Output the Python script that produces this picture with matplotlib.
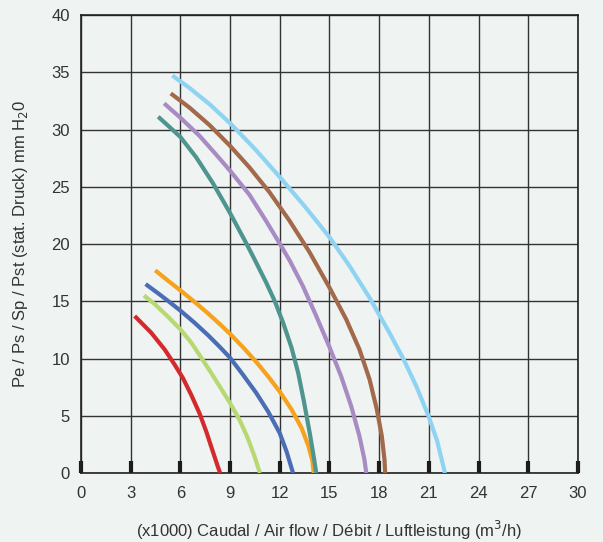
import matplotlib.pyplot as plt

# fan curves (x in thousands of m3/h, y in mm H2O)
red_x = [3.24, 4.24, 5.05, 5.65, 6.15, 6.65, 7.15, 7.56, 7.96, 8.26, 8.40]
red_y = [13.71, 12.25, 10.79, 9.47, 8.30, 6.84, 5.23, 3.63, 1.87, 0.56, 0.0]

green_x = [3.80, 4.45, 5.25, 6.0, 6.65, 7.27, 7.86, 8.4, 9.0, 9.57, 10.07, 10.48, 10.8]
green_y = [15.5, 14.75, 13.65, 12.55, 11.4, 10.05, 8.74, 7.5, 6.1, 4.65, 3.04, 1.43, 0.0]

blue_x = [3.9, 4.65, 5.3, 6.0, 6.85, 7.66, 8.4, 9.0, 9.77, 10.58, 11.29, 12.0, 12.41, 12.8]
blue_y = [16.5, 15.7, 14.98, 14.18, 13.13, 12.05, 10.98, 10.06, 8.6, 6.99, 5.38, 3.48, 1.87, 0.0]

orange_x = [4.48, 5.25, 6.0, 6.85, 7.66, 8.4, 9.0, 9.77, 10.58, 11.29, 12.0, 12.71,
            13.32, 13.72, 13.97, 14.05]
orange_y = [17.7, 16.8, 15.95, 14.95, 13.95, 12.98, 12.15, 11.0, 9.7, 8.45, 7.1, 5.55,
            3.92, 2.4, 1.05, 0.0]

teal_x = [4.66, 6.0, 6.96, 7.97, 9.0, 10.0, 10.48, 11.19, 11.7, 12.2, 12.71, 13.11,
          13.45, 13.82, 14.09, 14.2]
teal_y = [31.12, 29.35, 27.56, 25.3, 22.7, 20.0, 18.65, 16.6, 15.0, 13.13, 10.94, 8.75,
          6.3, 3.4, 1.05, 0.0]

purple_x = [5.02, 6.0, 7.16, 8.17, 9.0, 10.17, 11.18, 12.0, 12.6, 13.39, 14.19, 15.0,
            15.7, 16.31, 16.81, 17.11, 17.22]
purple_y = [32.28, 31.03, 29.44, 27.79, 26.4, 24.3, 22.0, 20.03, 18.55, 16.34, 13.75, 11.0,
            8.46, 5.84, 3.21, 1.17, 0.0]

brown_x = [5.42, 6.56, 7.77, 9.0, 10.17, 11.38, 12.58, 13.79, 15.0, 16.01, 16.81, 17.42,
           17.86, 18.16, 18.32, 18.36]
brown_y = [33.15, 31.9, 30.37, 28.57, 26.69, 24.52, 22.05, 19.3, 16.19, 13.42, 10.79, 8.17,
           5.54, 3.21, 1.17, 0.0]

sky_x = [5.52, 6.56, 7.77, 9.0, 10.5, 12.0, 13.5, 15.0, 16.2, 17.4, 18.6, 19.45, 20.25,
         20.97, 21.5, 21.97]
sky_y = [34.71, 33.62, 32.2, 30.55, 28.3, 25.85, 23.3, 20.6, 18.1, 15.35, 12.3, 10.0, 7.55,
         5.0, 2.8, 0.0]

curves = [
    (red_x, red_y, '#d42a2e'),
    (green_x, green_y, '#b8d872'),
    (blue_x, blue_y, '#4a6db5'),
    (orange_x, orange_y, '#f6a21d'),
    (teal_x, teal_y, '#4e958f'),
    (purple_x, purple_y, '#a98bc4'),
    (brown_x, brown_y, '#a2694b'),
    (sky_x, sky_y, '#8ed4f2'),
]

x_ticks = list(range(0, 31, 3))
y_ticks = list(range(0, 41, 5))

bg = '#eff3f2'
plt.rcParams['font.family'] = ['Liberation Sans Narrow', 'Liberation Sans', 'DejaVu Sans']

fig = plt.figure(figsize=(6.03, 5.42), dpi=100, facecolor=bg)
ax = fig.add_axes([0.1343, 0.1273, 0.8242, 0.8450], facecolor=bg)

for xs, ys, col in curves:
    ax.plot(xs, ys, color=col, lw=3.0, solid_capstyle='butt',
            solid_joinstyle='round', zorder=3)

ax.set_xlim(0, 30)
ax.set_ylim(0, 40)
ax.set_xticks(x_ticks)
ax.set_yticks(y_ticks)
ax.grid(True, color='#333333', lw=1.0, zorder=1)
ax.set_axisbelow(True)

ax.tick_params(axis='x', direction='in', length=8.5, width=3.0, color='#1e1a1a',
               labelsize=12, pad=9, labelcolor='#333333')
ax.tick_params(axis='y', length=0, labelsize=12, pad=8, labelcolor='#333333')
for s in ax.spines.values():
    s.set_color('#222222')
    s.set_linewidth(1.2)

ax.set_xlabel('(x1000) Caudal / Air flow / Débit / Luftleistung (m$^3$/h)',
              fontsize=12, color='#333333', labelpad=13)
ax.set_ylabel('Pe / Ps / Sp / Pst (stat. Druck) mm H$_2$0',
              fontsize=12, color='#333333', labelpad=15)

fig.savefig('out.png', dpi=100, facecolor=bg)
